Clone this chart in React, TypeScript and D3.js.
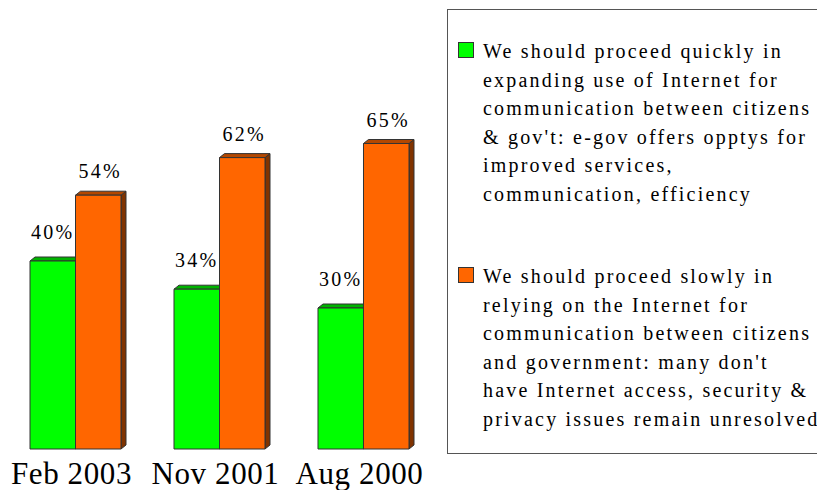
import * as d3 from 'd3';

const categories = ['Feb 2003', 'Nov 2001', 'Aug 2000'];
const seriesNames = ['quickly', 'slowly'];
const quicklyValues = [40, 34, 30];
const slowlyValues = [54, 62, 65];
const legendQuickly = [
  'We should proceed quickly in',
  'expanding use of Internet for',
  'communication between citizens',
  "& gov't: e-gov offers opptys for",
  'improved services,',
  'communication, efficiency',
];
const legendSlowly = [
  'We should proceed slowly in',
  'relying on the Internet for',
  'communication between citizens',
  "and government: many don't",
  'have Internet access, security &',
  'privacy issues remain unresolved',
];

const W = 817;
const H = 490;
const colors = {
  quickly: { front: '#00ff00', top: '#00b300', side: '#008000' },
  slowly: { front: '#ff6600', top: '#b34700', side: '#803300' },
};
const DX = 5;
const DY = 4;
const serif = { fontFamily: "'Liberation Serif', 'Times New Roman', Times, serif" };

export default function App() {
  const x = d3.scaleBand<string>().domain(categories).range([30, 409]).paddingInner(0.368).paddingOuter(0);
  const xs = d3.scaleBand<string>().domain(seriesNames).range([0, x.bandwidth()]);
  const y = d3.scaleLinear().domain([0, 70]).range([449, 120]);

  const rows = categories.map((c, i) => [
    { cat: c, key: 'quickly', value: quicklyValues[i] },
    { cat: c, key: 'slowly', value: slowlyValues[i] },
  ]);

  const legend = [
    { key: 'quickly', lines: legendQuickly, top: 58 },
    { key: 'slowly', lines: legendSlowly, top: 283 },
  ];

  return (
    <svg width={W} height={H} style={{ position: 'absolute', left: 0, top: 0 }}>
      <rect x={0} y={0} width={W} height={H} fill="#fff" />
      {rows.map((pair) =>
        pair.map((d) => {
          const x0 = (x(d.cat) ?? 0) + (xs(d.key) ?? 0);
          const w = xs.bandwidth();
          const y0 = y(d.value);
          const y1 = y(0);
          const c = colors[d.key as 'quickly' | 'slowly'];
          return (
            <g key={d.cat + d.key} stroke="#333" strokeWidth={1} strokeLinejoin="round">
              <polygon
                points={`${x0 + w},${y1} ${x0 + w + DX},${y1 - DY} ${x0 + w + DX},${y0 - DY} ${x0 + w},${y0}`}
                fill={c.side}
              />
              <polygon
                points={`${x0},${y0} ${x0 + DX},${y0 - DY} ${x0 + w + DX},${y0 - DY} ${x0 + w},${y0}`}
                fill={c.top}
              />
              <rect x={x0} y={y0} width={w} height={y1 - y0} fill={c.front} />
            </g>
          );
        })
      )}
      {rows.map((pair) =>
        pair.map((d) => {
          const x0 = (x(d.cat) ?? 0) + (xs(d.key) ?? 0);
          const w = xs.bandwidth();
          return (
            <text
              key={'l' + d.cat + d.key}
              x={x0 + w / 2 + (d.key === 'slowly' ? 2 : 0)}
              y={y(d.value) - (d.key === 'quickly' ? 22 : 17)}
              textAnchor="middle"
              style={serif}
              fontSize={20}
              letterSpacing={2.2}
              fill="#000"
            >
              {d.value}%
            </text>
          );
        })
      )}
      {categories.map((c) => (
        <text
          key={c}
          x={(x(c) ?? 0) + x.bandwidth() / 2 - 4}
          y={484}
          textAnchor="middle"
          style={serif}
          fontSize={31}
          letterSpacing={0.6}
          fill="#000"
        >
          {c}
        </text>
      ))}
      <rect x={447.5} y={9.5} width={380} height={444} fill="none" stroke="#555" strokeWidth={1} />
      {legend.map((item) => {
        const c = colors[item.key as 'quickly' | 'slowly'];
        return (
          <g key={item.key}>
            <rect x={458.5} y={item.top - 15.5} width={15} height={15} fill={c.front} stroke="#333" />
            <text style={serif} fontSize={20} letterSpacing={2.2} fill="#000">
              {item.lines.map((line, i) => (
                <tspan key={i} x={483} y={item.top + i * 28.5}>
                  {line}
                </tspan>
              ))}
            </text>
          </g>
        );
      })}
    </svg>
  );
}
